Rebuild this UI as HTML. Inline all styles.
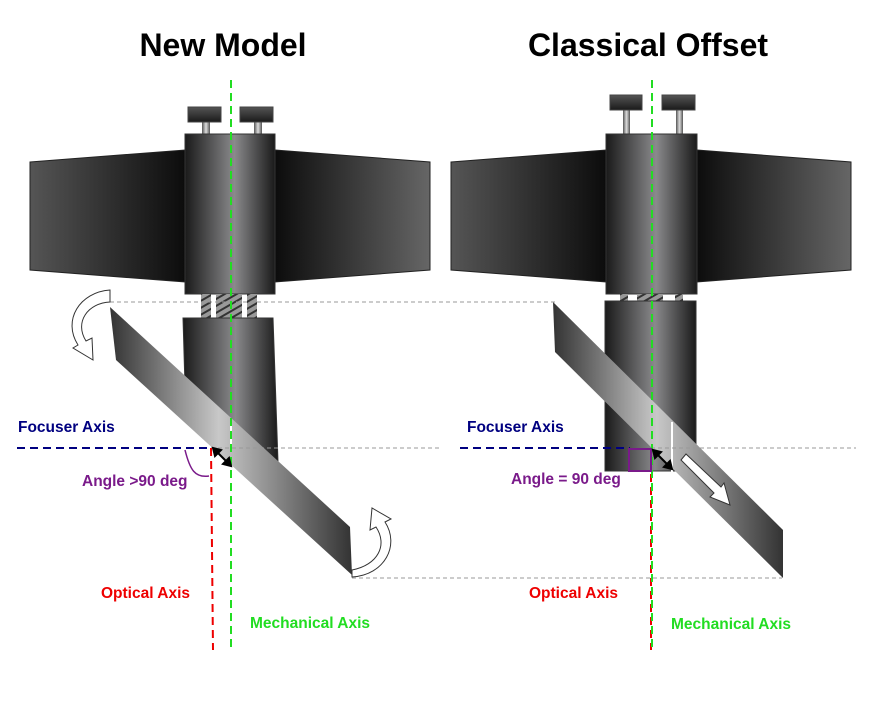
<!DOCTYPE html>
<html><head><style>body{margin:0;background:#fff}svg{display:block}</style></head><body>
<svg width="880" height="702" viewBox="0 0 880 702" xmlns="http://www.w3.org/2000/svg" font-family="Liberation Sans, sans-serif" font-weight="bold">
<defs>
<linearGradient id="body" x1="0" x2="1"><stop offset="0" stop-color="#1a1a1a"/><stop offset="0.55" stop-color="#8a8a8c"/><stop offset="1" stop-color="#1a1a1a"/></linearGradient>
<linearGradient id="wl" x1="0" x2="1"><stop offset="0" stop-color="#555"/><stop offset="1" stop-color="#0c0c0c"/></linearGradient>
<linearGradient id="wr" x1="0" x2="1"><stop offset="0" stop-color="#0c0c0c"/><stop offset="1" stop-color="#666"/></linearGradient>
<linearGradient id="mir" x1="0" x2="1"><stop offset="0" stop-color="#333"/><stop offset="0.45" stop-color="#c8c8c8"/><stop offset="1" stop-color="#333"/></linearGradient>
<linearGradient id="knob" x1="0" x2="0" y1="0" y2="1"><stop offset="0" stop-color="#555"/><stop offset="1" stop-color="#1a1a1a"/></linearGradient>
<linearGradient id="stem" x1="0" x2="1"><stop offset="0" stop-color="#555"/><stop offset="0.5" stop-color="#ddd"/><stop offset="1" stop-color="#555"/></linearGradient>
<pattern id="thr" width="6" height="6" patternUnits="userSpaceOnUse" patternTransform="rotate(-30)"><rect width="6" height="6" fill="#999"/><rect width="6" height="2" fill="#333"/></pattern>
</defs>

<text x="223" y="56" font-size="32" text-anchor="middle" fill="#000">New Model</text>
<text x="648" y="56" font-size="32" text-anchor="middle" fill="#000">Classical Offset</text>

<!-- LEFT -->
<polygon points="30,162 185,150 185,282 30,270" fill="url(#wl)" stroke="#222"/>
<polygon points="275,150 430,162 430,270 275,282" fill="url(#wr)" stroke="#222"/>
<rect x="202" y="120" width="8" height="15" fill="url(#stem)"/><rect x="254" y="120" width="8" height="15" fill="url(#stem)"/>
<rect x="188" y="107" width="33" height="15" fill="url(#knob)" stroke="#444"/><rect x="240" y="107" width="33" height="15" fill="url(#knob)" stroke="#444"/>
<rect x="185" y="134" width="90" height="160" fill="url(#body)" stroke="#333"/>
<rect x="201" y="294" width="10" height="24" fill="url(#thr)"/><rect x="216" y="294" width="26" height="24" fill="url(#thr)"/><rect x="247" y="294" width="10" height="24" fill="url(#thr)"/>
<polygon points="183,318 273,318 278,462 186,420" fill="url(#body)" stroke="#333"/>
<polygon points="110,307 350,527 352,575 116,360" fill="url(#mir)"/>
<line x1="231" y1="420" x2="231" y2="450" stroke="#fff" stroke-width="2"/>

<!-- RIGHT -->
<polygon points="451,162 606,150 606,282 451,270" fill="url(#wl)" stroke="#222"/>
<polygon points="697,150 851,162 851,270 697,282" fill="url(#wr)" stroke="#222"/>
<rect x="623" y="108" width="7" height="27" fill="url(#stem)"/><rect x="676" y="108" width="7" height="27" fill="url(#stem)"/>
<rect x="610" y="95" width="32" height="15" fill="url(#knob)" stroke="#444"/><rect x="662" y="95" width="33" height="15" fill="url(#knob)" stroke="#444"/>
<rect x="606" y="134" width="91" height="160" fill="url(#body)" stroke="#333"/>
<rect x="620" y="294" width="8" height="7" fill="url(#thr)"/><rect x="637" y="294" width="26" height="7" fill="url(#thr)"/><rect x="675" y="294" width="8" height="7" fill="url(#thr)"/>
<rect x="605" y="301" width="91" height="170" fill="url(#body)" stroke="#333"/>
<polygon points="553,302 783,530 783,578 555,352" fill="url(#mir)"/>
<line x1="672" y1="422" x2="672" y2="472" stroke="#fff" stroke-width="2"/>
<polygon points="681,460 686,454 721,487 724,483 730,505 710,497 714,493" fill="#fff" stroke="#333"/>

<!-- gray reference lines -->
<g stroke="#999" stroke-dasharray="4,3" stroke-width="1">
<line x1="110" y1="302" x2="555" y2="302"/>
<line x1="211" y1="448" x2="440" y2="448"/>
<line x1="651" y1="448" x2="856" y2="448"/>
<line x1="352" y1="578" x2="782" y2="578"/>
</g>

<!-- axes -->
<g stroke-width="2" stroke-dasharray="8,5">
<line x1="17" y1="448" x2="211" y2="448" stroke="#000080"/>
<line x1="460" y1="448" x2="630" y2="448" stroke="#000080"/>
<line x1="211" y1="448" x2="213" y2="650" stroke="#e00"/>
<line x1="651" y1="448" x2="651" y2="650" stroke="#e00"/>
<line x1="231" y1="80" x2="231" y2="650" stroke="#2d2"/>
<line x1="652" y1="80" x2="652" y2="650" stroke="#2d2"/>
</g>

<!-- angle markers -->
<path d="M185,450 C190,470 195,478 209,476" fill="none" stroke="#7a1a8a" stroke-width="1.5"/>
<rect x="629" y="449" width="22" height="22" fill="none" stroke="#7a1a8a" stroke-width="2"/>
<g stroke="#000" stroke-width="2" fill="#000">
<line x1="216" y1="451" x2="228" y2="463"/><polygon points="213,448 221,450 215,456"/><polygon points="231,466 223,464 229,458"/>
<line x1="656" y1="453" x2="669" y2="466"/><polygon points="653,450 661,452 655,458"/><polygon points="672,469 664,467 670,461"/>
</g>

<!-- rotation arrows -->
<path d="M110,290 C80,292 62,320 78,345 L73,348 L93,360 L92,338 L86,341 C74,322 88,303 110,302 Z" fill="#fff" stroke="#333"/>
<path d="M352,577 C385,575 400,545 385,522 L391,519 L372,508 L370,530 L376,527 C388,545 378,565 352,570 Z" fill="#fff" stroke="#333"/>

<g font-size="15.5">
<text x="18" y="432" fill="#000080">Focuser Axis</text>
<text x="467" y="432" fill="#000080">Focuser Axis</text>
<text x="82" y="486" fill="#7a1a8a">Angle &gt;90 deg</text>
<text x="511" y="484" fill="#7a1a8a">Angle = 90 deg</text>
<text x="101" y="598" fill="#e00">Optical Axis</text>
<text x="529" y="598" fill="#e00">Optical Axis</text>
<text x="250" y="628" fill="#2d2">Mechanical Axis</text>
<text x="671" y="629" fill="#2d2">Mechanical Axis</text>
</g>
</svg>
</body></html>
